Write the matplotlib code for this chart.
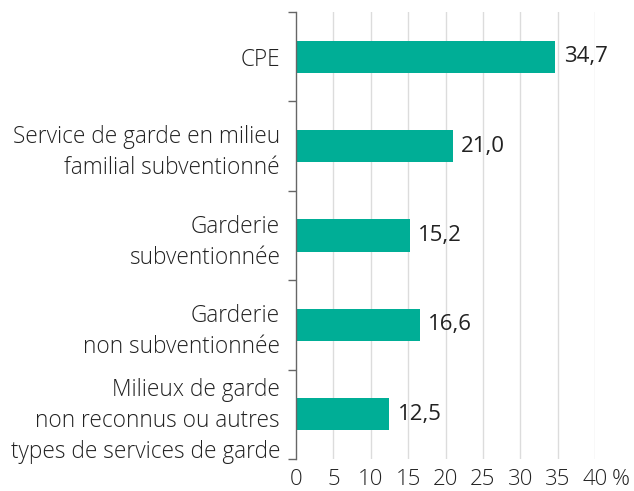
import matplotlib.pyplot as plt
import numpy as np

categories = [
    "CPE",
    "Service de garde en milieu\nfamilial subventionné",
    "Garderie\nsubventionnée",
    "Garderie\nnon subventionnée",
    "Milieux de garde\nnon reconnus ou autres\ntypes de services de garde",
]
values = [34.7, 21.0, 15.2, 16.6, 12.5]
xticks = [0, 5, 10, 15, 20, 25, 30, 35, 40]
xtick_labels = ["0", "5", "10", "15", "20", "25", "30", "35", "40"]

BAR_COLOR = "#00ae96"
TEXT_COLOR = "#222222"
AXIS_COLOR = "#666666"
GRID_COLOR = "#dcdcdc"

plt.rcParams["font.family"] = ["Open Sans", "DejaVu Sans"]
plt.rcParams["font.weight"] = "light"
plt.rcParams["font.size"] = 16

fig = plt.figure(figsize=(6.34, 4.91), dpi=100)
ax = fig.add_axes([0.467, 0.065, 0.4715, 0.9106])

n = len(categories)
ypos = np.arange(n)
ax.barh(ypos, values, height=0.36, color=BAR_COLOR, zorder=3)
for y, v in zip(ypos, values):
    ax.text(v + 1.1, y, f"{v:.1f}".replace(".", ","), va="center", ha="left",
            color=TEXT_COLOR, fontweight="normal")

ax.set_xlim(0, 40)
ax.set_ylim(n - 0.5, -0.5)
ax.set_xticks(xticks)
ax.set_xticklabels(xtick_labels, color=TEXT_COLOR)
ax.set_yticks(ypos)
ax.set_yticklabels(categories, color=TEXT_COLOR, linespacing=1.4, fontsize=16.3)
ax.set_yticks(np.arange(n + 1) - 0.5, minor=True)

ax.tick_params(axis="x", length=0, pad=7)
ax.tick_params(axis="y", which="major", length=0, pad=11.5)
ax.tick_params(axis="y", which="minor", length=6, width=1, color=AXIS_COLOR)

# unit sign after the last tick label
ax.annotate("%", xy=(40, 0), xycoords=("data", "axes fraction"),
            xytext=(12, -7), textcoords="offset points", ha="left", va="top",
            color=TEXT_COLOR, annotation_clip=False)

for x in xticks[1:]:
    ax.axvline(x, color=GRID_COLOR, linewidth=1, zorder=0)

for side in ["top", "right", "bottom"]:
    ax.spines[side].set_visible(False)
ax.spines["left"].set_color(AXIS_COLOR)
ax.spines["left"].set_linewidth(1)
ax.spines["left"].set_zorder(4)

fig.savefig("out.png", dpi=100)
